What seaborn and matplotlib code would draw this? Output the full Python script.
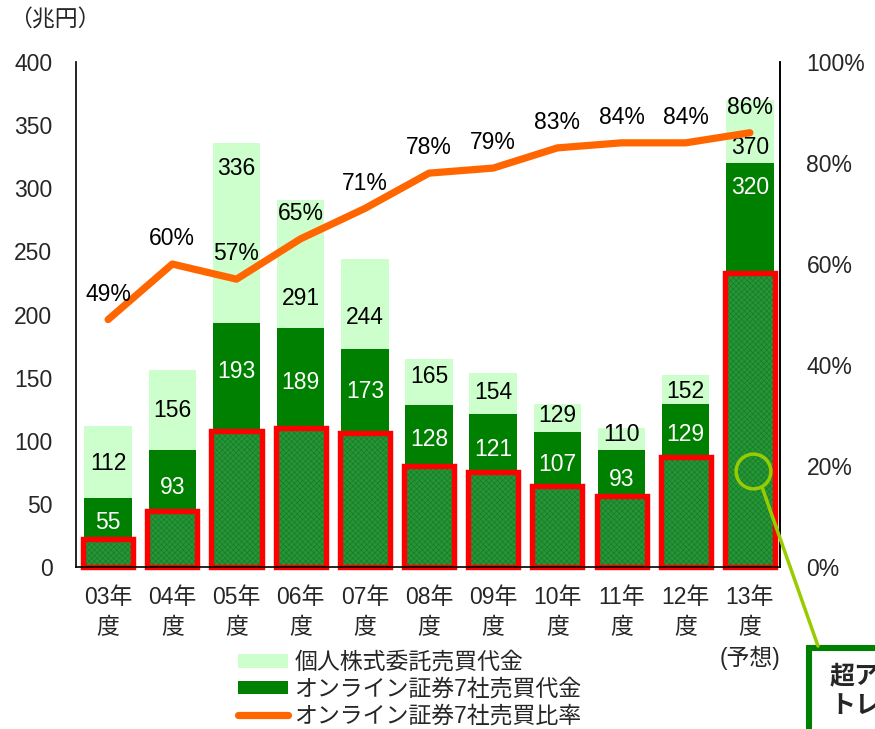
import numpy as np
import matplotlib
matplotlib.use("Agg")
import matplotlib.pyplot as plt
from matplotlib.patches import Patch, Rectangle
from matplotlib.lines import Line2D
import seaborn as sns

# Data
years = ['03年\n度', '04年\n度', '05年\n度', '06年\n度', '07年\n度', '08年\n度',
         '09年\n度', '10年\n度', '11年\n度', '12年\n度', '13年\n度\n(予想)']
total_trade = [112, 156, 336, 291, 244, 165, 154, 129, 110, 152, 370]     # 個人株式委託売買代金
online_trade = [55, 93, 193, 189, 173, 128, 121, 107, 93, 129, 320]      # オンライン証券7社売買代金
online_ratio = [49, 60, 57, 65, 71, 78, 79, 83, 84, 84, 86]              # 比率 (%)
active_trade = [22, 44, 108, 110, 106, 80, 75, 64, 56, 87, 233]

# label heights (data units) for the bar value labels
total_lab_y = [82, 124, 316, 213, 198, 151, 138, 120, 105, 139, 332]
online_lab_y = [35, 63, 155, 146, 139, 101, 93, 81, 69, 105, 301]

sns.set_style('white')
plt.rcParams['font.family'] = ['Liberation Sans', 'Noto Sans CJK JP']
plt.rcParams['hatch.linewidth'] = 0.4
FS = 16.5

fig = plt.figure(figsize=(8.75, 7.29), dpi=100)
ax = fig.add_axes([0.0869, 0.2222, 0.8046, 0.6927])

sns.barplot(x=years, y=total_trade, color='#CCFFCC', width=0.74, errorbar=None,
            saturation=1, linewidth=0, ax=ax)
sns.barplot(x=years, y=online_trade, color='#008000', width=0.74, errorbar=None,
            saturation=1, linewidth=0, ax=ax)
sns.barplot(x=years, y=active_trade, color='#279437', width=0.78, errorbar=None,
            saturation=1, linewidth=0, hatch='xxxxxx', edgecolor='#127a24', ax=ax)
sns.barplot(x=years, y=active_trade, color='#FF0000', width=0.78, errorbar=None,
            saturation=1, fill=False, linewidth=3.9, ax=ax)
for p in ax.containers[-1]:
    p.set_clip_on(False)
    p.set_joinstyle('miter')

ax.set_xlim(-0.5, 10.47)
ax.set_ylim(0, 400)
ax.set_yticks(range(0, 401, 50))
ax.set_xlabel('')
ax.tick_params(axis='y', length=0, pad=17, labelsize=FS)
ax.tick_params(axis='x', length=0, pad=14, labelsize=FS)
for lab in ax.get_xticklabels():
    lab.set_linespacing(1.35)
    lab.set_va('top')

for i in range(len(years)):
    ax.text(i, total_lab_y[i], str(total_trade[i]), ha='center', va='center',
            fontsize=FS, color='black')
    ax.text(i, online_lab_y[i], str(online_trade[i]), ha='center', va='center',
            fontsize=FS, color='white')

for s in ['left', 'bottom', 'right']:
    ax.spines[s].set_color('black')
    ax.spines[s].set_linewidth(1.2)
ax.spines['top'].set_visible(False)

# ratio line on right axis
ax2 = ax.twinx()
xpos = np.arange(len(years))
sns.lineplot(x=xpos, y=np.array(online_ratio) / 100, color='#FF6600', linewidth=5.2,
             solid_capstyle='round', ax=ax2)
ax2.set_ylim(0, 1)
ax2.set_yticks(np.arange(0, 1.01, 0.2))
ax2.set_yticklabels([f'{int(round(v * 100))}%' for v in np.arange(0, 1.01, 0.2)])
ax2.tick_params(axis='y', length=0, pad=19, labelsize=FS)
for s in ['left', 'bottom', 'top']:
    ax2.spines[s].set_visible(False)
ax2.spines['right'].set_color('black')
ax2.spines['right'].set_linewidth(1.2)
for i, r in enumerate(online_ratio):
    ax2.text(i, r / 100 + 0.05, f'{r}%', ha='center', va='center', fontsize=FS, color='black')

# highlight circle on the forecast bar
ax2.plot([10.05], [0.19], marker='o', markersize=25, markerfacecolor='none',
         markeredgecolor='#99CC00', markeredgewidth=2.5)

fig.text(0.01, 1 - 20 / 729, '（兆円）', fontsize=FS, va='center', ha='left')

# callout line + box (cut off at figure edge, as in the source)
fig.add_artist(Line2D([762 / 875, 818 / 875], [1 - 487 / 729, 1 - 646 / 729],
                      color='#99CC00', linewidth=2.5, transform=fig.transFigure))
fig.add_artist(Rectangle((809 / 875, -0.1), 0.2, 0.1 + 1 - 648 / 729,
                         transform=fig.transFigure, facecolor='white',
                         edgecolor='#008000', linewidth=4.4))
fig.text(830 / 875, 1 - 665 / 729, '超アクティブ\nトレーダー', fontsize=18, fontweight='bold',
         va='top', ha='left', linespacing=1.25, transform=fig.transFigure)

handles = [Patch(facecolor='#CCFFCC', edgecolor='none'),
           Patch(facecolor='#008000', edgecolor='none'),
           Line2D([0], [0], color='#FF6600', linewidth=5.2, solid_capstyle='round')]
labels = ['個人株式委託売買代金', 'オンライン証券7社売買代金', 'オンライン証券7社売買比率']
fig.legend(handles, labels, loc='upper left', bbox_to_anchor=(238 / 875, 1 - 651 / 729),
           frameon=False, fontsize=FS, handlelength=2.2, handleheight=0.55,
           handletextpad=0.25, labelspacing=0.16, borderpad=0, borderaxespad=0)

fig.savefig('out.png', dpi=100)
